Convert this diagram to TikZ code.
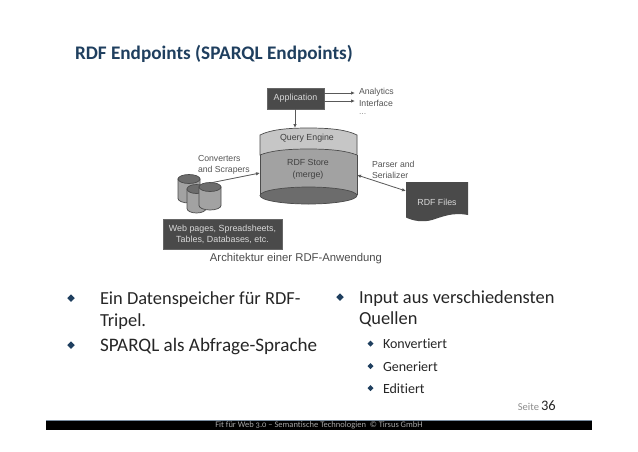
\documentclass[tikz,border=0pt]{standalone}
\usepackage{fontspec}
\setmainfont{Carlito}[Ligatures=NoCommon]
\newfontfamily\oldnum[Numbers=OldStyle,Ligatures=NoCommon]{Carlito}
\newfontfamily\helv{Liberation Sans}
\usetikzlibrary{shapes.geometric,arrows.meta}
\definecolor{navy}{HTML}{1F3F5F}
\definecolor{dbox}{HTML}{4A4A4A}
\definecolor{qgray}{HTML}{C6C6C6}
\definecolor{sgray}{HTML}{A2A2A2}
\definecolor{bgray}{HTML}{6C6C6C}
\definecolor{lab}{HTML}{555555}
\tikzset{
  x=1pt,y=-1pt,
  every node/.style={inner sep=0pt,outer sep=0pt},
  titletext/.style={anchor=base west,font=\fontsize{19.2}{19.2}\selectfont\bfseries,text=navy},
  bigtext/.style={anchor=base west,font=\fontsize{18.4}{18.4}\selectfont,text=black!85},
  smalltext/.style={anchor=base west,font=\fontsize{14}{14}\selectfont,text=black!85},
  bigbullet/.style={diamond,fill=navy,minimum size=7.5pt},
  smallbullet/.style={diamond,fill=navy,minimum size=6pt},
  sidelabel/.style={font=\helv\fontsize{8.7}{11}\selectfont,text=lab,align=left,anchor=west},
  darkbox/.style={fill=dbox,draw=black!60,line width=.5pt,font=\helv\fontsize{8.9}{11}\selectfont,text=black!15,align=center},
  conn/.style={draw=black!65,line width=.8pt,-{Latex[length=4pt,width=3.5pt]}},
  conntwo/.style={draw=black!65,line width=.8pt,{Latex[length=4pt,width=3.5pt]}-{Latex[length=4pt,width=3.5pt]}},
  cylline/.style={draw=black!70,line width=.7pt},
}
\begin{document}
\begin{tikzpicture}
\useasboundingbox (0,0) rectangle (638,451);
\fill[white] (0,0) rectangle (638,451);
% title
\node[titletext] (title) at (75,59) {RDF Endpoints (SPARQL Endpoints)};
% large cylinder
\fill[sgray] (260,135) -- (260,195) arc[start angle=180,end angle=360,x radius=48.5,y radius=-9] -- (357,135) -- cycle;
\path[fill=qgray,cylline] (260,155) -- (260,135) .. controls (270,130) and (285,128) .. (308.5,128) .. controls (332,128) and (347,130) .. (357,135) -- (357,155) .. controls (347,151) and (332,149) .. (308.5,149) .. controls (285,149) and (270,151) .. (260,155) -- cycle;
\draw[cylline] (260,155) -- (260,195) (357,155) -- (357,195);
\path[fill=bgray,cylline] (308.5,195.5) ellipse[x radius=48.5,y radius=8.5];
\node[font=\helv\fontsize{8.8}{11}\selectfont,text=black!75] (query) at (307,138.5) {Query Engine};
\node[font=\helv\fontsize{8.8}{11.5}\selectfont,text=black!75,align=center] (store) at (308,169.5) {RDF Store\\(merge)};
\coordinate (storeW) at (260,173);
\coordinate (storeE) at (357,175);
\coordinate (storeN) at (295,128);
% application
\node[darkbox,minimum width=57pt,minimum height=21pt] (app) at (295.5,98.5) {Application};
\coordinate (appA) at (324,93);
\coordinate (appB) at (324,101);
\coordinate (appS) at (295,109);
\coordinate (toA) at (355,93);
\coordinate (toB) at (355,101);
\node[sidelabel] (analytics) at (359,92.5) {Analytics};
\node[sidelabel] (interface) at (359,103) {Interface};
\node[sidelabel,text=black!45] (dots) at (359,114.5) {...};
\draw[conn] (appA) -- (toA);
\draw[conn] (appB) -- (toB);
\draw[conn] (appS) -- (storeN);
% small cylinders
\foreach \n/\xa/\xb/\yt/\yb in {c1/178/200/179/198.5, c2/187/206/189/208.5, c3/199/221/187/205.5}{
  \path[fill=sgray,cylline] (\xa,\yt) -- (\xa,\yb) arc[start angle=180,end angle=360,x radius={(\xb-\xa)/2},y radius=-4.5] -- (\xb,\yt) -- cycle;
  \path[fill=bgray,cylline] ({(\xa+\xb)/2},\yt) ellipse[x radius={(\xb-\xa)/2},y radius=4.5];
}
\coordinate (cylsrc) at (210,183);
\draw[conn] (cylsrc) -- (storeW);
\node[sidelabel] (conv) at (198,164.5) {Converters\\and Scrapers};
% rdf files
\path[fill=dbox] (406,182) -- (468,182) -- (468,215) .. controls (452,212) and (442,217) .. (432,220) .. controls (423,222.5) and (413,221) .. (406,217.5) -- cycle;
\node[font=\helv\fontsize{8.8}{11}\selectfont,text=black!15] (files) at (437,202) {RDF Files};
\coordinate (filesW) at (406,191);
\draw[conntwo] (storeE) -- (filesW);
\node[sidelabel] (parser) at (372,170) {Parser and\\Serializer};
% source box
\node[darkbox,minimum width=119pt,minimum height=30pt] (src) at (222.5,234) {Web pages, Spreadsheets,\\Tables, Databases, etc.};
\node[font=\helv\fontsize{11.3}{13}\selectfont,text=black!70] (cap) at (296,259) {Architektur einer RDF-Anwendung};
% left list
\node[bigbullet] (b1) at (71,298) {};
\node[bigtext] (t1) at (100,304) {Ein Datenspeicher für RDF-};
\node[bigtext] (t1b) at (100,326) {Tripel.};
\node[bigbullet] (b2) at (71,345) {};
\node[bigtext,font=\fontsize{19.1}{19.1}\selectfont] (t2) at (100,351) {SPARQL als Abfrage-Sprache};
% right list
\node[bigbullet] (b3) at (340,297) {};
\node[bigtext] (t3) at (359,303) {Input aus verschiedensten};
\node[bigtext] (t3b) at (359,324) {Quellen};
\node[smallbullet] (s1) at (370.5,343.5) {};
\node[smalltext] (u1) at (383,348) {Konvertiert};
\node[smallbullet] (s2) at (370.5,366) {};
\node[smalltext] (u2) at (383,371) {Generiert};
\node[smallbullet] (s3) at (370.5,388) {};
\node[smalltext] (u3) at (383,393) {Editiert};
% page number
\node[anchor=base east,font=\fontsize{10.5}{10.5}\selectfont,text=black!45] (seite) at (539,410) {Seite};
\node[anchor=base west,font=\fontsize{14.5}{14.5}\selectfont,text=black!85] (num) at (541,410) {36};
% footer
\fill[black] (46,420.5) rectangle (592,430);
\draw[draw=navy!60,line width=.6pt] (46,420.3) -- (592,420.3);
\node[font=\oldnum\fontsize{8.5}{8.5}\selectfont,text=black!35] (foot) at (319,425.5) {Fit für Web 3.0 – Semantische Technologien \ © Tirsus GmbH};
\end{tikzpicture}
\end{document}
